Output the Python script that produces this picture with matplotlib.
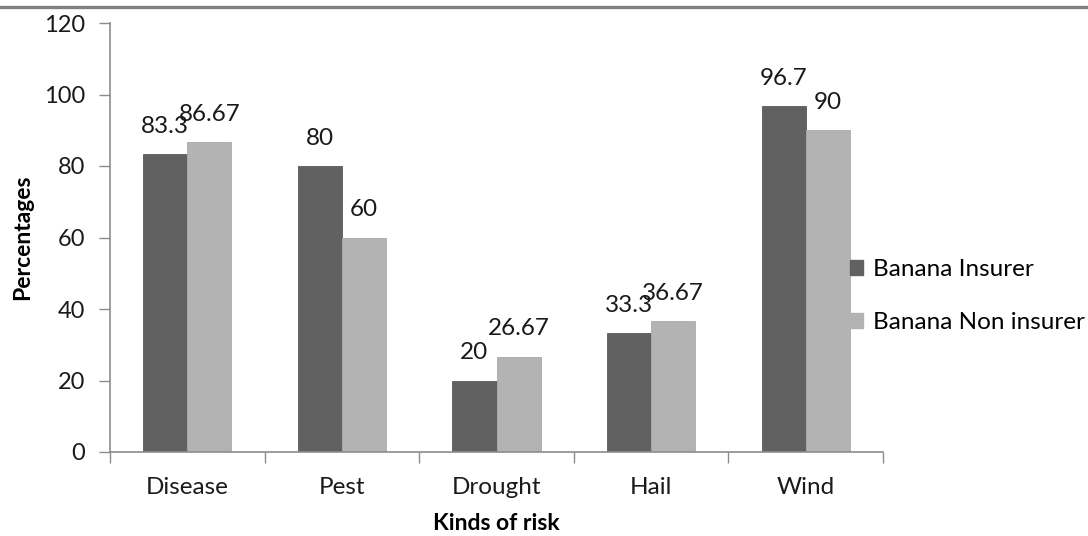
import matplotlib
matplotlib.use("Agg")
import matplotlib.pyplot as plt
from matplotlib.lines import Line2D
import numpy as np

categories = ["Disease", "Pest", "Drought", "Hail", "Wind"]
insurer = [83.3, 80, 20, 33.3, 96.7]
non_insurer = [86.67, 60, 26.67, 36.67, 90]
insurer_labels = ["83.3", "80", "20", "33.3", "96.7"]
non_insurer_labels = ["86.67", "60", "26.67", "36.67", "90"]
series_names = ["Banana Insurer", "Banana Non insurer"]
y_ticks = [0, 20, 40, 60, 80, 100, 120]

plt.rcParams["font.family"] = ["Lato", "DejaVu Sans"]

dark = "#616161"
light = "#b3b3b3"
axis_col = "#8c8c8c"
text_col = "#1a1a1a"

fig = plt.figure(figsize=(10.88, 5.36), dpi=100)
ax = fig.add_axes([110 / 1088, 84 / 536, 773 / 1088, 429 / 536])

x = np.arange(len(categories))
w = 0.285
b1 = ax.bar(x - w / 2, insurer, width=w, color=dark, edgecolor="#5a5a5a", linewidth=0.6, label=series_names[0])
b2 = ax.bar(x + w / 2, non_insurer, width=w, color=light, edgecolor="#aaaaaa", linewidth=0.6, label=series_names[1])

for bars, labels in ((b1, insurer_labels), (b2, non_insurer_labels)):
    for rect, lab in zip(bars, labels):
        ax.annotate(lab, (rect.get_x() + rect.get_width() / 2, rect.get_height()),
                    xytext=(0, 20), textcoords="offset points",
                    ha="center", va="center", fontsize=17.5, color=text_col)

ax.set_xlim(-0.5, len(categories) - 0.5)
ax.set_ylim(0, 120)
ax.set_yticks(y_ticks)
ax.set_yticklabels([str(v) for v in y_ticks], fontsize=17, color=text_col)
ax.set_xticks(x)
ax.set_xticklabels(categories, fontsize=17.5, color=text_col)
ax.tick_params(axis="x", which="major", length=0, pad=18)
ax.set_xticks(np.arange(-0.5, len(categories)), minor=True)
ax.tick_params(axis="x", which="minor", length=8, color=axis_col, width=1)
ax.tick_params(axis="y", length=8, color=axis_col, width=1, pad=10)

for side in ("top", "right"):
    ax.spines[side].set_visible(False)
for side in ("left", "bottom"):
    ax.spines[side].set_color(axis_col)
    ax.spines[side].set_linewidth(1.2)

ax.set_ylabel("Percentages", fontsize=16.5, fontweight="bold", labelpad=8)
ax.set_xlabel("Kinds of risk", fontsize=16.5, fontweight="bold", labelpad=11)

handles = [plt.Rectangle((0, 0), 1, 1, color=dark), plt.Rectangle((0, 0), 1, 1, color=light)]
fig.legend(handles, series_names, loc="center left", bbox_to_anchor=(850 / 1088, 1 - 296 / 536),
           frameon=False, fontsize=17.5, handlelength=0.55, handleheight=0.55,
           handletextpad=0.4, labelspacing=1.3, borderaxespad=0, borderpad=0)

fig.add_artist(Line2D([0, 1], [1 - 6.5 / 536, 1 - 6.5 / 536], color="#808080", linewidth=2.4,
                      transform=fig.transFigure))

fig.savefig("out.png", dpi=100)
